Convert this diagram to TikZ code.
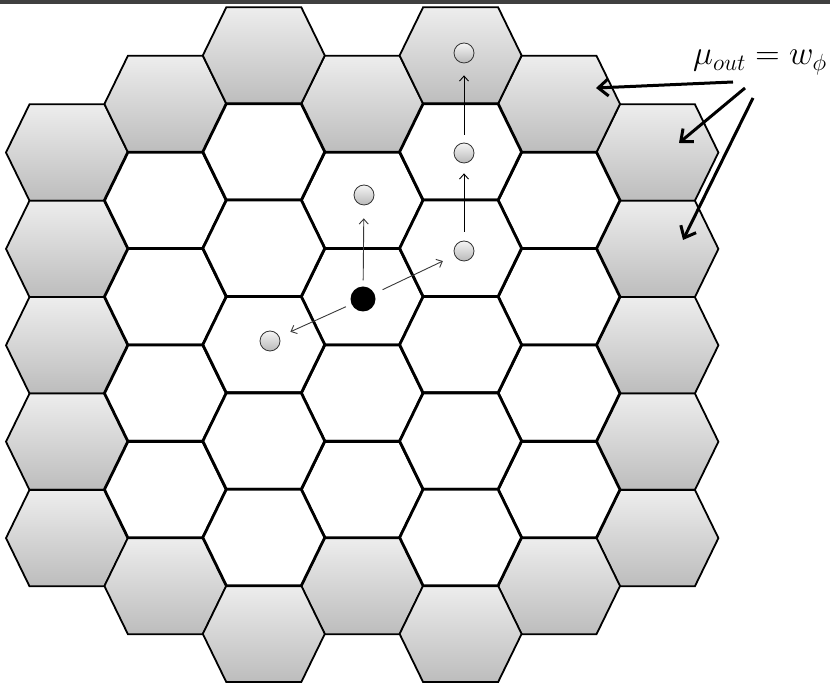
\documentclass[tikz,border=0pt]{standalone}
\usepackage[x11names, svgnames, rgb]{xcolor}
\usepackage{tikz}
\usetikzlibrary{arrows.meta}
\usepackage{amsmath}

\tikzset{
  hexcell/.style={insert path={++(-61bp,0bp) -- ++(23.5bp,48.2bp) -- ++(75bp,0bp) -- ++(23.5bp,-48.2bp) -- ++(-23.5bp,-48.2bp) -- ++(-75bp,0bp) -- cycle}},
  greycell/.style={draw=black, line width=1.8bp, top color=gray!14, bottom color=gray!52},
  whitecell/.style={draw=black, line width=2.8bp, fill=white},
  ball/.style={circle, draw=gray!40!black, line width=0.8bp, top color=gray!8, bottom color=gray!55, inner sep=0pt, minimum size=20bp},
  move/.style={->, draw=gray!45!black, line width=0.9bp},
  big/.style={-{Straight Barb[length=10bp,width=17bp]}, line width=3bp},
}

\begin{document}
\begin{tikzpicture}[>={Straight Barb[length=5bp,width=9bp]},line join=miter,]
\useasboundingbox (0bp,0bp) rectangle (830bp,690bp);
\fill [black!75] (0bp,686bp) rectangle (830bp,690bp);
%% outer ring
\foreach \y in {537.5,441.1,344.7,248.3,151.9} {
  \draw [greycell] (67bp,\y bp) [hexcell];
  \draw [greycell] (657.4bp,\y bp) [hexcell];
}
\foreach \x in {165.4,362.2,559} {
  \draw [greycell] (\x bp,586bp) [hexcell];
  \draw [greycell] (\x bp,104bp) [hexcell];
}
\foreach \x in {263.8,460.6} {
  \draw [greycell] (\x bp,634.5bp) [hexcell];
  \draw [greycell] (\x bp,56.1bp) [hexcell];
}
%% inner cells
\foreach \x in {165.4,362.2,559}
  \foreach \y in {489.6,393.2,296.8,200.4}
    \draw [whitecell] (\x bp,\y bp) [hexcell];
\foreach \x in {263.8,460.6}
  \foreach \y in {538.1,441.7,345.3,248.9,152.5}
    \draw [whitecell] (\x bp,\y bp) [hexcell];
%%
\node (nbE3) at (464bp,637bp) [ball] {};
\node (nbE2) at (464bp,537bp) [ball] {};
\node (nbE) at (464bp,439bp) [ball] {};
\node (nbN) at (364bp,495bp) [ball] {};
\node (nbSW) at (270bp,349bp) [ball] {};
\node (cur) at (363bp,391bp) [circle, fill=black, inner sep=0pt, minimum size=25bp] {};
\draw [move, shorten <=6bp, shorten >=13bp] (cur) -- (nbN);
\draw [move, shorten <=9bp, shorten >=13bp] (cur) -- (nbE);
\draw [move, shorten <=6bp, shorten >=12bp] (cur) -- (nbSW);
\draw [move, draw=black, shorten <=9bp, shorten >=10bp] (nbE) -- (nbE2);
\draw [move, draw=black, shorten <=8bp, shorten >=12bp] (nbE2) -- (nbE3);
%%
\node (lbl) at (760bp,625bp) [anchor=base, inner sep=0pt, scale=1.36, transform shape, font=\fontsize{24}{28}\selectfont] {$\mu_{out} = w_{\phi}$};
\coordinate (t1) at (596bp,602bp);
\coordinate (t2) at (679bp,547bp);
\coordinate (t3) at (683bp,450bp);
\draw [big] ([xshift=-27bp,yshift=-17bp]lbl.base) -- (t1);
\draw [big] ([xshift=-15bp,yshift=-23bp]lbl.base) -- (t2);
\draw [big] ([xshift=-7bp,yshift=-33bp]lbl.base) -- (t3);
%
\end{tikzpicture}
\end{document}
